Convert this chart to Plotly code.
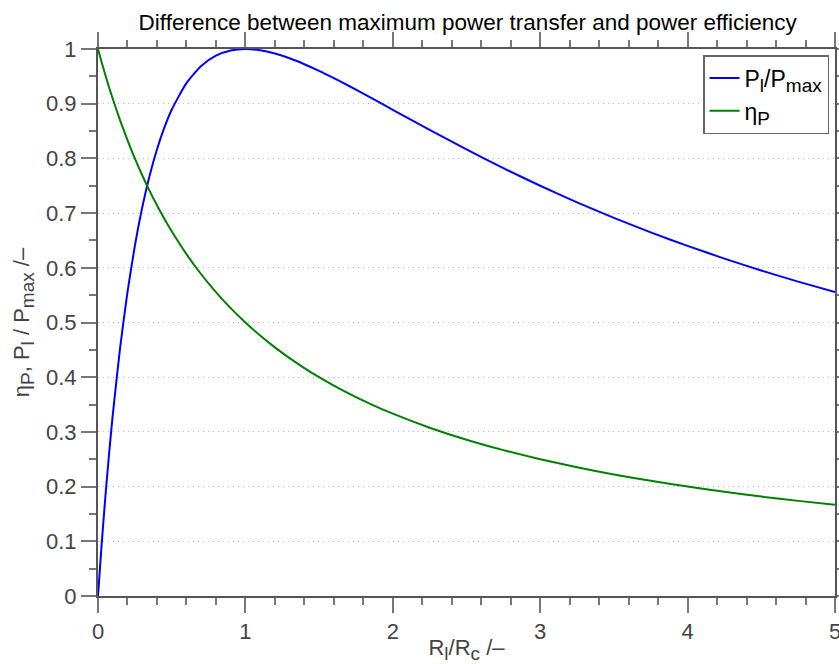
import plotly.graph_objects as go

# R_l/R_c values
ratio = [0, 0.025, 0.05, 0.075, 0.1, 0.15, 0.2, 0.25, 0.3, 0.35, 0.4, 0.45, 0.5,
         0.6, 0.7, 0.8, 0.9, 1.0, 1.1, 1.2, 1.3, 1.4, 1.5, 1.6, 1.7, 1.8, 1.9, 2.0,
         2.25, 2.5, 2.75, 3.0, 3.25, 3.5, 3.75, 4.0, 4.25, 4.5, 4.75, 5.0]
# P_l / P_max
p_ratio = [0, 0.0952, 0.1814, 0.2596, 0.3306, 0.4537, 0.5556, 0.64, 0.7101, 0.7682,
           0.8163, 0.8561, 0.8889, 0.9375, 0.9689, 0.9877, 0.9972, 1.0, 0.9977, 0.9917,
           0.9830, 0.9722, 0.96, 0.9467, 0.9328, 0.9184, 0.9037, 0.8889, 0.8521, 0.8163,
           0.7822, 0.75, 0.7197, 0.6914, 0.6648, 0.64, 0.6168, 0.5950, 0.5747, 0.5556]
# efficiency eta_P
eta = [1.0, 0.9756, 0.9524, 0.9302, 0.9091, 0.8696, 0.8333, 0.8, 0.7692, 0.7407,
       0.7143, 0.6897, 0.6667, 0.625, 0.5882, 0.5556, 0.5263, 0.5, 0.4762, 0.4545,
       0.4348, 0.4167, 0.4, 0.3846, 0.3704, 0.3571, 0.3448, 0.3333, 0.3077, 0.2857,
       0.2667, 0.25, 0.2353, 0.2222, 0.2105, 0.2, 0.1905, 0.1818, 0.1739, 0.1667]

FONT = "Liberation Sans, Arial, sans-serif"
AXC = "#555555"
TICKC = "#444444"


def sub(s, size=19):
    return "<sub><span style='font-size:%dpx'>%s</span></sub>" % (size, s)


fig = go.Figure()
fig.add_trace(go.Scatter(x=ratio, y=p_ratio, mode="lines",
                         name="P" + sub("l") + "/P" + sub("max"),
                         line=dict(color="#0000ff", width=2, shape="spline", smoothing=0.6)))
fig.add_trace(go.Scatter(x=ratio, y=eta, mode="lines", name="η" + sub("P"),
                         line=dict(color="#008000", width=2, shape="spline", smoothing=0.6)))

fig.update_layout(
    width=839, height=664,
    margin=dict(l=98, r=4, t=49, b=68),
    paper_bgcolor="white", plot_bgcolor="white",
    font=dict(family=FONT, size=22, color=TICKC),
    title=dict(text="Difference between maximum power transfer and power efficiency",
               x=0.5575, xanchor="center", y=1 - 22 / 664, yanchor="middle",
               font=dict(family=FONT, size=22.5, color="black")),
    showlegend=True,
    legend=dict(x=0.9919, xanchor="right", y=0.989, yanchor="top",
                bgcolor="white", bordercolor="#666666", borderwidth=1.5,
                font=dict(family=FONT, size=23, color="black"),
                tracegroupgap=0, itemwidth=30),
)

fig.update_xaxes(
    range=[0, 5], dtick=1, tick0=0, automargin=False, ticklabeloverflow="allow",
    showline=True, linecolor=AXC, linewidth=2, mirror="ticks",
    ticks="outside", ticklen=15, tickwidth=1.5, tickcolor="#777777",
    minor=dict(ticks="outside", ticklen=7, tickwidth=1.5, tickcolor="#777777", dtick=0.2, showgrid=False),
    showgrid=False, zeroline=False,
    tickfont=dict(family=FONT, size=22, color=TICKC),
    title=dict(text="R" + sub("l") + "/R" + sub("c") + " /–", standoff=4,
               font=dict(family=FONT, size=22, color=TICKC)),
)
fig.update_yaxes(
    range=[0, 1], dtick=0.1, tick0=0, automargin=False, ticklabeloverflow="allow",
    showline=True, linecolor=AXC, linewidth=2, mirror="ticks",
    ticks="outside", ticklen=15, tickwidth=1.5, tickcolor="#777777",
    minor=dict(ticks="outside", ticklen=7, tickwidth=1.5, tickcolor="#777777", dtick=0.05, showgrid=False),
    showgrid=True, gridcolor="#b8b8b8", griddash="1px,4px", gridwidth=1,
    zeroline=False,
    tickfont=dict(family=FONT, size=22, color=TICKC),
    title=dict(text="η" + sub("P") + ", P" + sub("l") + " / P" + sub("max") + " /–", standoff=10,
               font=dict(family=FONT, size=22, color=TICKC)),
)

fig.write_html("out.html")
